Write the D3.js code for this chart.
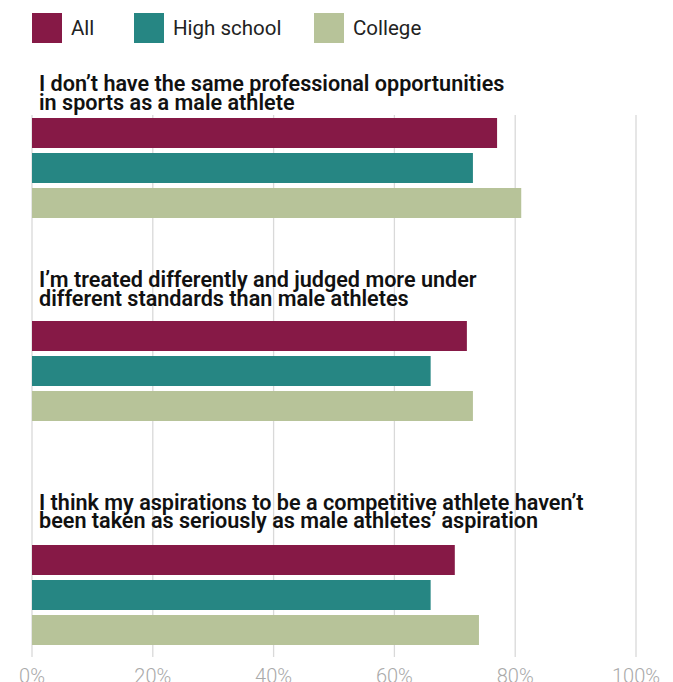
<!DOCTYPE html>
<html>
<head>
<meta charset="utf-8">
<script src="https://cdn.jsdelivr.net/npm/d3@7"></script>
<style>
  html, body { margin: 0; padding: 0; background: #fff; }
  svg { display: block; }
</style>
</head>
<body>
<svg id="chart" width="673" height="682"></svg>
<script>
// ---- Data ----
const categories = [
  ["I don\u2019t have the same professional opportunities", "in sports as a male athlete"],
  ["I\u2019m treated differently and judged more under", "different standards than male athletes"],
  ["I think my aspirations to be a competitive athlete haven\u2019t", "been taken as seriously as male athletes\u2019 aspiration"]
];
const seriesNames = ["All", "High school", "College"];
const allValues = [77, 72, 70];
const highSchoolValues = [73, 66, 66];
const collegeValues = [81, 73, 74];
const tickValues = [0, 20, 40, 60, 80, 100];
const tickLabels = ["0%", "20%", "40%", "60%", "80%", "100%"];
const colors = ["#861946", "#268683", "#b7c399"];

const seriesValues = [allValues, highSchoolValues, collegeValues];

// ---- Layout ----
const svg = d3.select("#chart");
const x = d3.scaleLinear().domain([0, 100]).range([32, 636]);
const groupTops = [118, 321, 545];
const titleBaselines = [91, 287, 509.5];
const titleLineH = 18.5;
const barH = 30, barStep = 35;
const gridTop = 115, gridBottom = 657;

const yInGroup = d3.scaleBand().domain(seriesNames).range([0, barStep * 3]).paddingInner(0);

// gridlines
svg.append("g").selectAll("line").data(tickValues).join("line")
  .attr("x1", d => x(d)).attr("x2", d => x(d))
  .attr("y1", gridTop).attr("y2", gridBottom)
  .attr("stroke", "#d9d9d9").attr("stroke-width", 1.3);

// axis labels
svg.append("g").selectAll("text").data(tickValues).join("text")
  .attr("x", d => x(d)).attr("y", 683)
  .attr("text-anchor", "middle")
  .attr("font-family", "Roboto, sans-serif")
  .attr("font-weight", 300)
  .attr("font-size", 20)
  .attr("fill", "#a9a9a9")
  .text((d, i) => tickLabels[i]);

// groups
categories.forEach((cat, gi) => {
  const top = groupTops[gi];
  const g = svg.append("g");
  const title = g.append("text")
    .attr("font-family", "Roboto, sans-serif")
    .attr("font-weight", 600)
    .attr("font-size", 21.6)
    .attr("fill", "#111");
  cat.forEach((line, li) => {
    title.append("tspan").attr("x", 39).attr("y", titleBaselines[gi] + li * titleLineH).text(line);
  });
  seriesNames.forEach((s, si) => {
    g.append("rect")
      .attr("x", x(0))
      .attr("y", top + yInGroup(s))
      .attr("width", x(seriesValues[si][gi]) - x(0))
      .attr("height", barH)
      .attr("fill", colors[si]);
  });
});

// legend
const legendX = [32, 134, 314];
const legend = svg.append("g");
seriesNames.forEach((s, i) => {
  legend.append("rect").attr("x", legendX[i]).attr("y", 13).attr("width", 30).attr("height", 30).attr("fill", colors[i]);
  legend.append("text").attr("x", legendX[i] + 39).attr("y", 35)
    .attr("font-family", "Roboto, sans-serif").attr("font-size", 20.5).attr("fill", "#222")
    .text(s);
});
</script>
</body>
</html>
